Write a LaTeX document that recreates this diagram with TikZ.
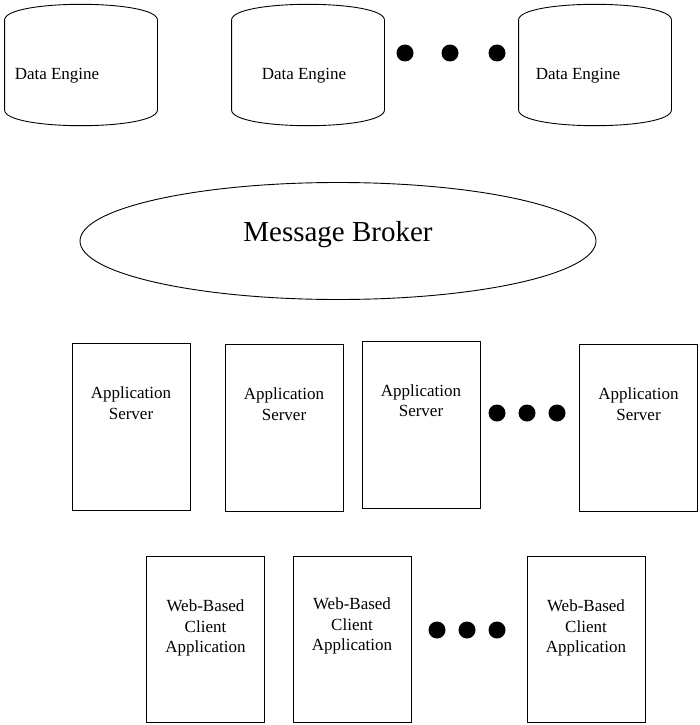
\documentclass[tikz,border=0pt]{standalone}
\usepackage{fontspec}
\setmainfont{Liberation Serif}
\usetikzlibrary{shapes.geometric}

\begin{document}
\begin{tikzpicture}[
  x=1pt, y=-1pt,
  line width=0.9pt,
  every node/.style={font=\fontsize{17}{20.5}\selectfont, align=center},
  engine/.style={rectangle, inner sep=0pt, minimum width=152pt, minimum height=121pt},
  broker/.style={ellipse, draw, inner sep=0pt, minimum width=516pt, minimum height=117pt},
  appbox/.style={rectangle, draw, minimum width=118pt, minimum height=167pt},
  webbox/.style={rectangle, draw, minimum width=118pt, minimum height=166pt},
  boxtext/.style={anchor=north, inner sep=0pt},
  dot/.style={circle, fill, inner sep=0pt, minimum size=17pt}
]
\useasboundingbox (0,0) rectangle (700,725);

% data engines
\node[engine, label={[xshift=-24pt, yshift=-11pt]center:Data Engine}] (eng1) at (81,65) {};
\node[engine, label={[xshift=-4pt, yshift=-11pt]center:Data Engine}] (eng2) at (308,65) {};
\node[engine, label={[xshift=-17pt, yshift=-11pt]center:Data Engine}] (eng3) at (595,65) {};
\foreach \n in {eng1,eng2,eng3}
  \draw ([yshift=-16pt]\n.north west) .. controls ([yshift=5pt]\n.north west) and ([yshift=5pt]\n.north east) .. ([yshift=-16pt]\n.north east)
     -- ([yshift=16pt]\n.south east) .. controls ([yshift=-5pt]\n.south east) and ([yshift=-5pt]\n.south west) .. ([yshift=16pt]\n.south west) -- cycle;
\foreach \x [count=\i] in {405,450,497}
  \node[dot] (edot\i) at (\x,53) {};

% message broker
\node[broker, label={[yshift=6pt, font=\fontsize{29}{34}\selectfont]center:Message Broker}] (broker) at (338,241) {};

% application servers
\node[appbox, label={[boxtext, yshift=-44pt]north:Application\\Server}] (app1) at (131,426.5) {};
\node[appbox, label={[boxtext, yshift=-44pt]north:Application\\Server}] (app2) at (284,427.5) {};
\node[appbox, label={[boxtext, yshift=-43pt]north:Application\\Server}] (app3) at (421,425) {};
\node[appbox, label={[boxtext, yshift=-44pt]north:Application\\Server}] (app4) at (638.5,427.5) {};
\foreach \x [count=\i] in {497,527,557}
  \node[dot] (adot\i) at (\x,413) {};

% web clients
\node[webbox, label={[boxtext, yshift=-44pt]north:Web-Based\\Client\\Application}] (web1) at (205.5,639) {};
\node[webbox, label={[boxtext, yshift=-42pt]north:Web-Based\\Client\\Application}] (web2) at (352,639) {};
\node[webbox, label={[boxtext, yshift=-44pt]north:Web-Based\\Client\\Application}] (web3) at (586,639) {};
\foreach \x [count=\i] in {437,467,497}
  \node[dot] (wdot\i) at (\x,630) {};
\end{tikzpicture}
\end{document}
